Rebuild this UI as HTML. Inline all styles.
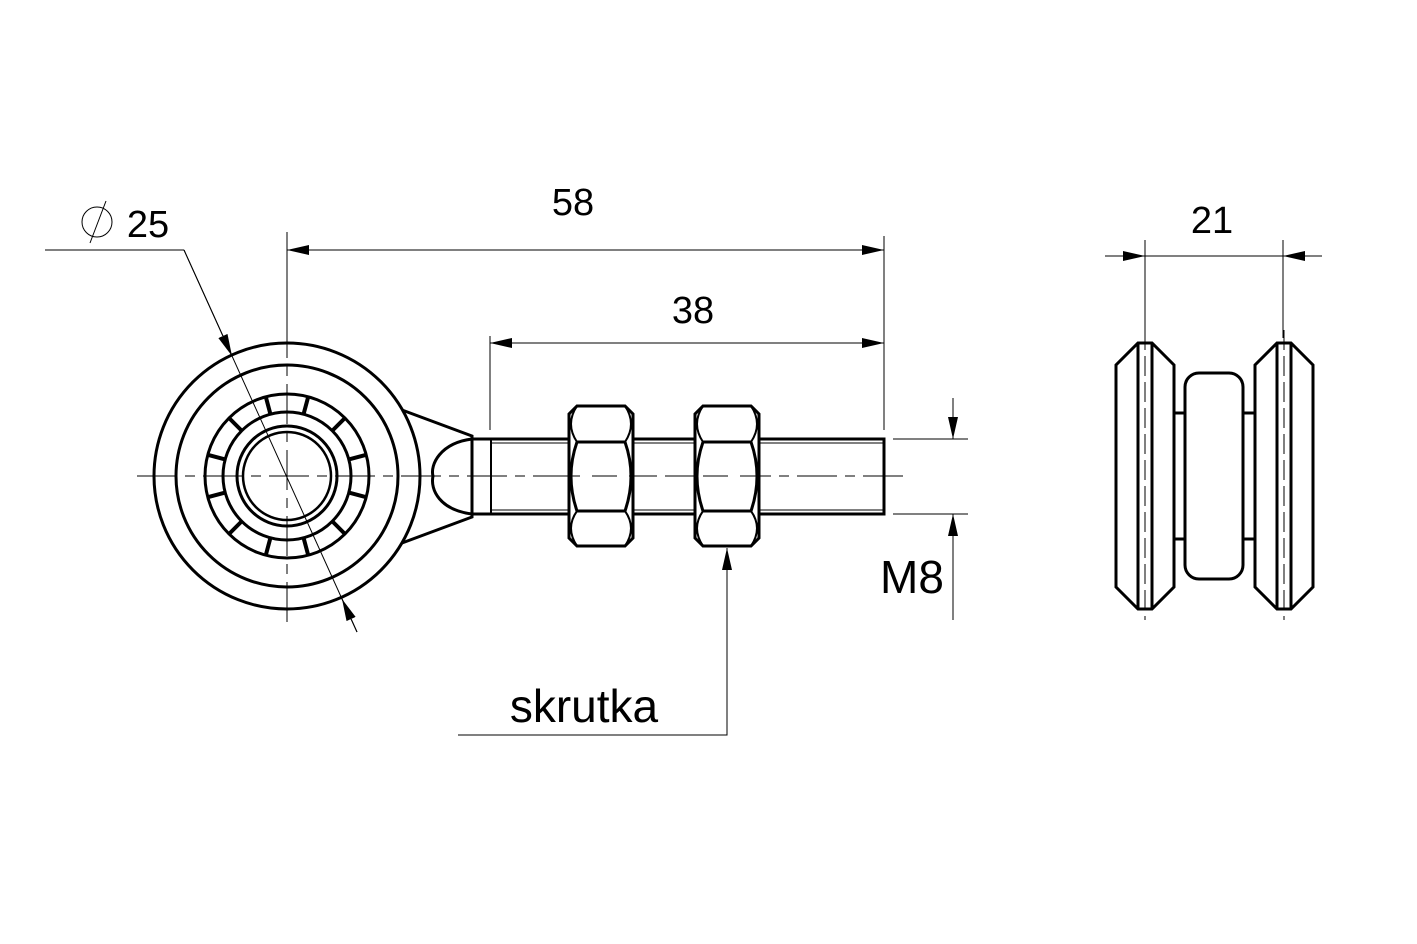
<!DOCTYPE html>
<html><head><meta charset="utf-8"><style>
html,body{margin:0;padding:0;background:#fff;}
svg{display:block}
text{font-family:"Liberation Sans",sans-serif;fill:#000}
</style></head><body>
<svg width="1417" height="944" viewBox="0 0 1417 944" xmlns="http://www.w3.org/2000/svg">
<defs>
<marker id="a" viewBox="0 0 22 10" refX="22" refY="5" markerWidth="22" markerHeight="10" markerUnits="userSpaceOnUse" orient="auto-start-reverse"><path d="M0,0 L22,5 L0,10 Z" fill="#000"/></marker>
</defs>
<g fill="none" stroke="#000">
<line x1="137" y1="476" x2="905" y2="476" stroke-width="1" stroke-dasharray="40,8,10,8"/>
<line x1="287" y1="318" x2="287" y2="622" stroke-width="1" stroke-dasharray="40,8,10,8"/>
<g stroke-width="3">
<circle cx="287" cy="476" r="133"/>
<circle cx="287" cy="476" r="111"/>
<circle cx="287" cy="476" r="82"/>
<circle cx="287" cy="476" r="64"/>
<circle cx="287" cy="476" r="50"/>
<circle cx="287" cy="476" r="44" stroke-width="2.5"/>
</g>
<g stroke-width="4">
<line x1="287" y1="412" x2="287" y2="394" transform="rotate(15 287 476)"/>
<line x1="287" y1="412" x2="287" y2="394" transform="rotate(45 287 476)"/>
<line x1="287" y1="412" x2="287" y2="394" transform="rotate(75 287 476)"/>
<line x1="287" y1="412" x2="287" y2="394" transform="rotate(105 287 476)"/>
<line x1="287" y1="412" x2="287" y2="394" transform="rotate(135 287 476)"/>
<line x1="287" y1="412" x2="287" y2="394" transform="rotate(165 287 476)"/>
<line x1="287" y1="412" x2="287" y2="394" transform="rotate(195 287 476)"/>
<line x1="287" y1="412" x2="287" y2="394" transform="rotate(225 287 476)"/>
<line x1="287" y1="412" x2="287" y2="394" transform="rotate(255 287 476)"/>
<line x1="287" y1="412" x2="287" y2="394" transform="rotate(285 287 476)"/>
<line x1="287" y1="412" x2="287" y2="394" transform="rotate(315 287 476)"/>
<line x1="287" y1="412" x2="287" y2="394" transform="rotate(345 287 476)"/>
</g>
<g stroke-width="3">
<path d="M402,410 L472,436 L472,517 L402,543"/>
<path d="M472,439 C440,443 430,465 433,476 C430,490 440,510 472,514"/>
<path d="M472,439 L884,439 L884,514 L472,514"/>
<line x1="491" y1="439" x2="491" y2="514" stroke-width="2"/>
</g>
<line x1="491" y1="443" x2="884" y2="443" stroke-width="1"/>
<line x1="491" y1="510" x2="884" y2="510" stroke-width="1"/>
<g stroke-width="3" fill="#fff">
<g id="nut">
<path d="M577,406 L625,406 L633,414 L633,538 L625,546 L577,546 L569,538 L569,414 Z"/>
<line x1="577" y1="442" x2="625" y2="442"/>
<line x1="577" y1="511" x2="625" y2="511"/>
<path d="M577,442 Q565,476 577,511 M625,442 Q637,476 625,511" fill="none"/>
<path d="M577,442 Q565,424 577,406 M625,442 Q637,424 625,406 M577,511 Q565,528 577,546 M625,511 Q637,528 625,546" fill="none" stroke-width="2"/>
</g>
<use href="#nut" transform="translate(126 0)"/>
</g>
<line x1="555" y1="476" x2="775" y2="476" stroke-width="1" stroke-dasharray="25,12"/>
<g stroke-width="1">
<line x1="287" y1="232" x2="287" y2="318"/>
<line x1="884" y1="236" x2="884" y2="430"/>
<line x1="490" y1="336" x2="490" y2="430"/>
<line x1="287" y1="250" x2="884" y2="250" marker-start="url(#a)" marker-end="url(#a)"/>
<line x1="490" y1="343" x2="884" y2="343" marker-start="url(#a)" marker-end="url(#a)"/>
<line x1="893" y1="439" x2="968" y2="439"/>
<line x1="893" y1="514" x2="968" y2="514"/>
<line x1="953" y1="398" x2="953" y2="439" marker-end="url(#a)"/>
<line x1="953" y1="620" x2="953" y2="514" marker-end="url(#a)"/>
<polyline points="458,735 727,735 727,548" marker-end="url(#a)"/>
<polyline points="45,250 184,250"/>
<line x1="184" y1="250" x2="357" y2="632"/>
<line x1="184" y1="250" x2="232" y2="356" marker-end="url(#a)"/>
<line x1="357" y1="632" x2="342" y2="599" marker-end="url(#a)"/>
<circle cx="97" cy="222" r="15"/>
<line x1="90" y1="243" x2="106" y2="201"/>
<line x1="1145" y1="240" x2="1145" y2="338"/>
<line x1="1283" y1="240" x2="1283" y2="338"/>
<line x1="1145" y1="256" x2="1283" y2="256"/>
<line x1="1105" y1="256" x2="1145" y2="256" marker-end="url(#a)"/>
<line x1="1322" y1="256" x2="1283" y2="256" marker-end="url(#a)"/>
</g>
<g stroke-width="3">
<path d="M1138,343 L1152,343 L1174,365 L1174,587 L1152,609 L1138,609 L1116,587 L1116,365 Z"/>
<line x1="1138" y1="343" x2="1138" y2="609"/>
<line x1="1152" y1="343" x2="1152" y2="609"/>
<path d="M1277,343 L1291,343 L1313,365 L1313,587 L1291,609 L1277,609 L1255,587 L1255,365 Z"/>
<line x1="1277" y1="343" x2="1277" y2="609"/>
<line x1="1291" y1="343" x2="1291" y2="609"/>
<rect x="1185" y="373" width="58" height="206" rx="14"/>
<line x1="1174" y1="413" x2="1185" y2="413"/>
<line x1="1243" y1="413" x2="1255" y2="413"/>
<line x1="1174" y1="539" x2="1185" y2="539"/>
<line x1="1243" y1="539" x2="1255" y2="539"/>
</g>
<line x1="1145" y1="330" x2="1145" y2="620" stroke-width="1" stroke-dasharray="20,6"/>
<line x1="1284" y1="330" x2="1284" y2="620" stroke-width="1" stroke-dasharray="20,6"/>
</g>
<text x="573" y="215" font-size="38" text-anchor="middle">58</text>
<text x="693" y="323" font-size="38" text-anchor="middle">38</text>
<text x="148" y="237" font-size="38" text-anchor="middle">25</text>
<text x="1212" y="233" font-size="38" text-anchor="middle">21</text>
<text x="912" y="593" font-size="46" text-anchor="middle">M8</text>
<text x="584" y="722" font-size="46" text-anchor="middle">skrutka</text>
</svg>
</body></html>
